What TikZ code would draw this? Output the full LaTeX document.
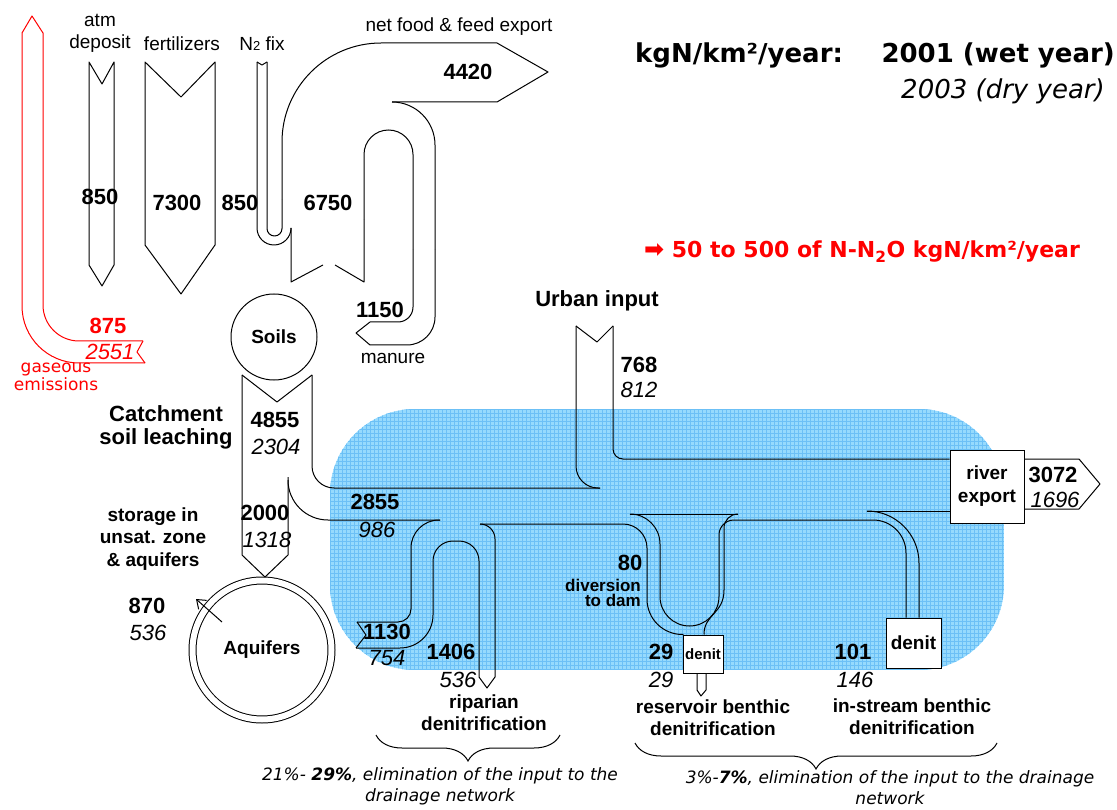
\documentclass[tikz,border=0pt]{standalone}
\usepackage{fontspec}
\setmainfont{Liberation Sans}
\newfontfamily\comicfont{DejaVu Sans}
\usetikzlibrary{arrows.meta,decorations.pathreplacing}
\definecolor{waterblue}{RGB}{150,218,253}
\definecolor{gridblue}{RGB}{108,192,246}
\definecolor{gasred}{RGB}{255,0,0}
\tikzset{
  flow/.style={draw=black, line width=1pt, line join=round},
  gasflow/.style={draw=gasred, line width=1pt, line join=round},
  num/.style={font=\fontsize{22}{24}\selectfont\bfseries, inner sep=0pt},
  numit/.style={font=\fontsize{22}{24}\selectfont\itshape, inner sep=0pt},
  plainlbl/.style={font=\fontsize{19}{22}\selectfont, inner sep=0pt, align=center},
  boldlbl/.style={font=\fontsize{19}{22}\selectfont\bfseries, inner sep=0pt, align=center},
  comiclbl/.style={font=\comicfont\fontsize{17}{18}\selectfont, inner sep=0pt, align=center},
  capt/.style={font=\comicfont\itshape\fontsize{17}{21}\selectfont, inner sep=0pt, align=center},
  pool/.style={circle, draw, line width=1pt, inner sep=0pt, font=\fontsize{19}{22}\selectfont\bfseries},
  denitbox/.style={rectangle, draw, fill=white, line width=1pt, inner sep=0pt, align=center},
  spine/.style={decorate, decoration={brace, mirror, amplitude=26pt}, line width=1pt},
  watergrid/.style={draw=gridblue, line width=0.45pt}
}
\begin{document}
\begin{tikzpicture}[x=1pt, y=-1pt]
  \useasboundingbox (0,0) rectangle (1117,810);

  % drainage network area
  \begin{scope}
    \clip[rounded corners=85pt] (330,409) rectangle (1004,670);
    \fill[waterblue] (330,409) rectangle (1004,670);
    \foreach \gx in {330,334,...,1004}
      \draw[watergrid] (\gx,409) -- (\gx,670);
    \foreach \gy in {409,413,...,670}
      \draw[watergrid] (330,\gy) -- (1004,\gy);
  \end{scope}

  % pools and boxes
  \node[pool, minimum size=86pt] (soils) at (274,337) {Soils};
  \node[pool, double, double distance=6pt, minimum size=139pt, fill=white] (aquifers) at (262,650) {Aquifers};
  \node[denitbox, minimum width=40pt, minimum height=38pt, font=\fontsize{15}{17}\selectfont\bfseries] (resdenit) at (703,654) {denit};
  \node[denitbox, minimum width=55pt, minimum height=50pt, font=\fontsize{19}{22}\selectfont\bfseries] (streamdenit) at (913.5,643) {denit};
  \node[denitbox, minimum width=74pt, minimum height=73pt, font=\fontsize{19}{23}\selectfont\bfseries] (riverexport) at (987,486.5) {river\\export};

  % gaseous emissions
  \draw[gasflow, rounded corners=36pt] (143,341) -- (43,341) -- (43,33);
  \draw[gasflow] (43,33) -- (32,16) -- (22,33);
  \draw[gasflow, rounded corners=57pt] (22,33) -- (22,363) -- (145,363);
  \draw[gasflow] (145,363) -- (137,352) -- (143,341);

  % atm deposit and fertilizers
  \draw[flow] (89,62) -- (102,84) -- (114,62) -- (114,265) -- (102,286) -- (89,265) -- cycle;
  \draw[flow] (145,62) -- (181,97) -- (215,62) -- (215,245) -- (181,294) -- (145,245) -- cycle;

  % N2 fix, crops, export and manure
  \draw[flow] (257,62) -- (262,65) -- (267,62);
  \draw[flow, rounded corners=17pt] (257,62) -- (257,245) -- (291,245) -- (291,228);
  \draw[flow] (291,228) -- (291,282) -- (323,265);
  \draw[flow, rounded corners=7.5pt] (267,62) -- (267,236) -- (282,236) -- (282,200);
  \draw[flow, rounded corners=99pt] (282,200) -- (282,43) -- (497,43);
  \draw[flow] (497,43) -- (548,72) -- (497,102) -- (392,102);
  \draw[flow, rounded corners=43pt] (392,102) -- (435,102) -- (435,250);
  \draw[flow, rounded corners=28pt] (435,250) -- (435,345) -- (370,345);
  \draw[flow] (370,345) -- (356,333) -- (370,322);
  \draw[flow, rounded corners=15pt] (370,322) -- (413,322) -- (413,250);
  \draw[flow, rounded corners=24.5pt] (413,250) -- (413,130) -- (364,130) -- (364,220);
  \draw[flow] (364,220) -- (364,282) -- (335,265);

  % catchment soil leaching
  \draw[flow] (242,375) -- (277,402) -- (312,375);
  \draw[flow] (242,375) -- (242,555) -- (265,577) -- (288,555) -- (288,477);
  \draw[flow, rounded corners=22pt] (312,375) -- (312,488) -- (600,488);
  \draw[flow, rounded corners=40pt] (288,480) -- (288,520) -- (440,520);

  % urban input
  \draw[flow] (576,326) -- (597,342) -- (613,326);
  \draw[flow, rounded corners=22pt] (576,326) -- (576,488) -- (600,488);
  \draw[flow, rounded corners=10pt] (613,326) -- (613,459) -- (riverexport.west |- 0,459);

  % aquifer return and riparian
  \draw[flow, rounded corners=28pt] (440,520) -- (411,520) -- (411,590);
  \draw[flow, rounded corners=13pt] (411,590) -- (411,622) -- (357,622);
  \draw[flow] (357,622) -- (366,635) -- (356,648);
  \draw[flow, rounded corners=33pt] (356,648) -- (433,648) -- (433,590);
  \draw[flow, rounded corners=20pt] (433,590) -- (433,541) -- (479,541) -- (479,600);
  \draw[flow] (479,600) -- (479,677) -- (487,688) -- (495,677);
  \draw[flow, rounded corners=15pt] (495,677) -- (495,524) -- (480,524);

  % diversion to dam
  \draw[flow, rounded corners=24pt] (480,524) -- (647,524) -- (647,575);
  \draw[flow, rounded corners=36pt] (647,575) -- (647,635) -- (resdenit.north west);
  \draw[flow] (630,514) -- (738,514);
  \draw[flow, rounded corners=30pt] (630,514) -- (660,514) -- (660,570);
  \draw[flow, rounded corners=29.5pt] (660,570) -- (660,626) -- (719,626) -- (719,575);
  \draw[flow, rounded corners=15pt] (719,575) -- (719,520) -- (800,520);
  \draw[flow, rounded corners=33pt] (800,520) -- (906,520) -- (streamdenit.north -| 906,0);
  \draw[flow, rounded corners=14pt] (738,514) -- (724,514) -- (724,590);
  \draw[flow] (724,590) .. controls (724,614) and (704,614) .. (resdenit.north -| 704,0);
  \draw[flow] (resdenit.south -| 697,0) -- (697,690) -- (701,696) -- (706,690) -- (resdenit.south -| 706,0);

  % in-stream and river export
  \draw[flow] (867,511) -- (riverexport.west |- 0,511);
  \draw[flow, rounded corners=52pt] (867,511) -- (919,511) -- (streamdenit.north -| 919,0);
  \draw[flow] (riverexport.east |- 0,459) -- (1079,459) -- (1100,484) -- (1079,509) -- (riverexport.east |- 0,509);

  % storage arrow
  \coordinate (storein) at (222,622);
  \coordinate (storeout) at (196,599);
  \draw[line width=1pt, -{Straight Barb[length=8pt,width=12pt]}] (storein) -- (storeout);

  % braces
  \draw[spine] (376,735) -- (560,735);
  \draw[spine] (635,743) -- (997,743);

  % labels
  \node[plainlbl] (atmlbl) at (100,33) {atm\\deposit};
  \node[plainlbl] (fertlbl) at (182,44) {fertilizers};
  \node[plainlbl] (fixlbl) at (262,44) {N{\fontsize{13}{13}\selectfont 2} fix};
  \node[plainlbl] (exportlbl) at (459,27) {net food \& feed export};
  \node[plainlbl] (manurelbl) at (393,358) {manure};
  \node[num] (atmnum) at (100,197) {850};
  \node[num] (fertnum) at (177,203) {7300};
  \node[num] (fixnum) at (240,203) {850};
  \node[num] (cropnum) at (328,203) {6750};
  \node[num] (exportnum) at (468,72) {4420};
  \node[num] (manurenum) at (380,310) {1150};

  \node[num, text=gasred] (gasnum) at (108,326) {875};
  \node[numit, text=gasred] (gasnumdry) at (110,352) {2551};
  \node[comiclbl, text=gasred] (gaslbl) at (56,377) {gaseous\\emissions};

  \node[boldlbl, font=\fontsize{22}{23}\selectfont\bfseries] (leachlbl) at (166,427) {Catchment\\soil leaching};
  \node[num] (leachnum) at (275,420) {4855};
  \node[numit] (leachnumdry) at (276,447) {2304};
  \node[num] (rechargenum) at (265,513) {2000};
  \node[numit] (rechargenumdry) at (267,540) {1318};
  \node[boldlbl, font=\fontsize{19}{22.5}\selectfont\bfseries] (storagelbl) at (153,539) {storage in\\unsat. zone\\\& aquifers};
  \node[num] (storagenum) at (147,606) {870};
  \node[numit] (storagenumdry) at (148,633) {536};

  \node[num] (drainnum) at (375,502) {2855};
  \node[numit] (drainnumdry) at (377,530) {986};
  \node[num] (gwnum) at (387,632) {1130};
  \node[numit] (gwnumdry) at (387,658) {754};
  \node[num] (ripnum) at (451,652) {1406};
  \node[numit] (ripnumdry) at (458,680) {536};
  \node[boldlbl] (riplbl) at (484,713) {riparian\\denitrification};

  \node[boldlbl, font=\fontsize{22}{24}\selectfont\bfseries] (urbanlbl) at (597,301) {Urban input};
  \node[num] (urbannum) at (639,365) {768};
  \node[numit] (urbannumdry) at (639,390) {812};

  \node[num] (damnum) at (630,563) {80};
  \node[boldlbl, font=\fontsize{17}{15}\selectfont\bfseries, align=right, anchor=east] (damlbl) at (641,593) {diversion\\to dam};
  \node[num] (resnum) at (661,652) {29};
  \node[numit] (resnumdry) at (661,680) {29};
  \node[boldlbl] (reslbl) at (713,718) {reservoir benthic\\denitrification};
  \node[num] (streamnum) at (853,652) {101};
  \node[numit] (streamnumdry) at (855,680) {146};
  \node[boldlbl] (streamlbl) at (912,717) {in-stream benthic\\denitrification};
  \node[num] (rivernum) at (1053,475) {3072};
  \node[numit] (rivernumdry) at (1055,500) {1696};

  % captions and units
  \node[capt] (ripcap) at (440,786) {21\%- \textbf{29\%}, elimination of the input to the\\drainage network};
  \node[capt] (benthcap) at (890,788) {3\%-\textbf{7\%}, elimination of the input to the drainage\\network};
  \node[font=\comicfont\bfseries\fontsize{26}{30}\selectfont, inner sep=0pt, anchor=west] (unitlbl) at (635,55) {kgN/km²/year:};
  \node[font=\comicfont\bfseries\fontsize{26}{30}\selectfont, inner sep=0pt, anchor=east] (wetlbl) at (1115,55) {2001 (wet year)};
  \node[font=\comicfont\itshape\fontsize{26}{30}\selectfont, inner sep=0pt, anchor=east] (drylbl) at (1105,91) {2003 (dry year)};
  \node[font=\comicfont\bfseries\fontsize{22}{26}\selectfont, text=gasred, inner sep=0pt] (n2olbl) at (862,252) {{\fontsize{24}{26}\selectfont ➡} 50 to 500 of N-N\textsubscript{2}O kgN/km²/year};
\end{tikzpicture}
\end{document}
